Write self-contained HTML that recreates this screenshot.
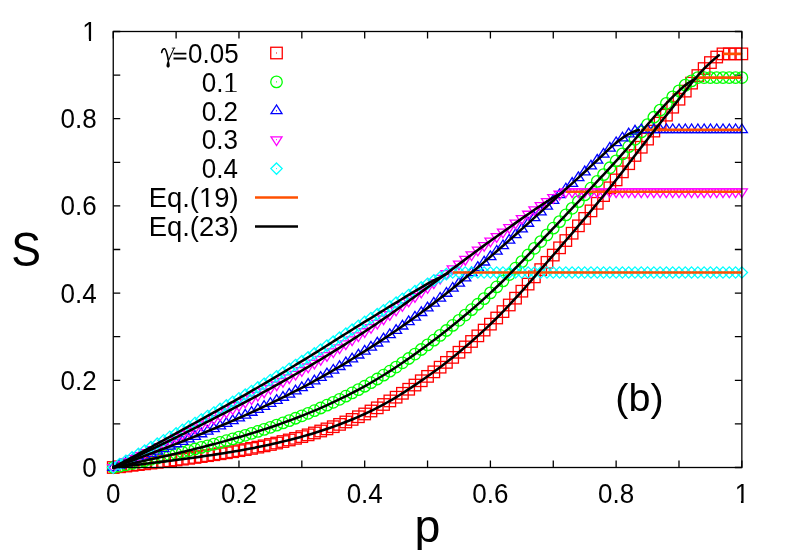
<!DOCTYPE html>
<html><head><meta charset="utf-8"><title>S vs p</title>
<style>html,body{margin:0;padding:0;background:#fff;}body{width:789px;height:552px;overflow:hidden;font-family:"Liberation Sans",sans-serif;}svg{display:block;}text{font-family:"Liberation Sans",sans-serif;fill:#000;}.sym{font-family:"Liberation Serif",serif;}</style></head><body>
<svg width="789" height="552" viewBox="0 0 789 552">
<rect x="0" y="0" width="789" height="552" fill="#fff"/>
<path d="M113.25 467.5v-7M113.25 31.5v7M113.25 467.5h7M741.85 467.5h-7M176.11 467.5v-7M176.11 31.5v7M113.25 423.9h7M741.85 423.9h-7M238.97 467.5v-7M238.97 31.5v7M113.25 380.3h7M741.85 380.3h-7M301.83 467.5v-7M301.83 31.5v7M113.25 336.7h7M741.85 336.7h-7M364.69 467.5v-7M364.69 31.5v7M113.25 293.1h7M741.85 293.1h-7M427.55 467.5v-7M427.55 31.5v7M113.25 249.5h7M741.85 249.5h-7M490.41 467.5v-7M490.41 31.5v7M113.25 205.9h7M741.85 205.9h-7M553.27 467.5v-7M553.27 31.5v7M113.25 162.3h7M741.85 162.3h-7M616.13 467.5v-7M616.13 31.5v7M113.25 118.7h7M741.85 118.7h-7M678.99 467.5v-7M678.99 31.5v7M113.25 75.1h7M741.85 75.1h-7M741.85 467.5v-7M741.85 31.5v7M113.25 31.5h7M741.85 31.5h-7" stroke="#000" stroke-width="1.3" fill="none"/>
<g stroke="#ff0000" stroke-width="1.3" fill="none" stroke-linejoin="miter"><rect x="107.5" y="461.75" width="11.5" height="11.5"/><rect x="113.79" y="461.03" width="11.5" height="11.5"/><rect x="120.07" y="460.3" width="11.5" height="11.5"/><rect x="126.36" y="459.57" width="11.5" height="11.5"/><rect x="132.64" y="458.84" width="11.5" height="11.5"/><rect x="138.93" y="458.09" width="11.5" height="11.5"/><rect x="145.22" y="457.34" width="11.5" height="11.5"/><rect x="151.5" y="456.57" width="11.5" height="11.5"/><rect x="157.79" y="455.79" width="11.5" height="11.5"/><rect x="164.07" y="455.01" width="11.5" height="11.5"/><rect x="170.36" y="454.21" width="11.5" height="11.5"/><rect x="176.65" y="453.39" width="11.5" height="11.5"/><rect x="182.93" y="452.56" width="11.5" height="11.5"/><rect x="189.22" y="451.7" width="11.5" height="11.5"/><rect x="195.5" y="450.82" width="11.5" height="11.5"/><rect x="201.79" y="449.91" width="11.5" height="11.5"/><rect x="208.08" y="448.98" width="11.5" height="11.5"/><rect x="214.36" y="448.01" width="11.5" height="11.5"/><rect x="220.65" y="447.01" width="11.5" height="11.5"/><rect x="226.93" y="445.98" width="11.5" height="11.5"/><rect x="233.22" y="444.92" width="11.5" height="11.5"/><rect x="239.51" y="443.81" width="11.5" height="11.5"/><rect x="245.79" y="442.64" width="11.5" height="11.5"/><rect x="252.08" y="441.4" width="11.5" height="11.5"/><rect x="258.36" y="440.1" width="11.5" height="11.5"/><rect x="264.65" y="438.73" width="11.5" height="11.5"/><rect x="270.94" y="437.29" width="11.5" height="11.5"/><rect x="277.22" y="435.79" width="11.5" height="11.5"/><rect x="283.51" y="434.22" width="11.5" height="11.5"/><rect x="289.79" y="432.58" width="11.5" height="11.5"/><rect x="296.08" y="430.88" width="11.5" height="11.5"/><rect x="302.37" y="429.1" width="11.5" height="11.5"/><rect x="308.65" y="427.22" width="11.5" height="11.5"/><rect x="314.94" y="425.24" width="11.5" height="11.5"/><rect x="321.22" y="423.15" width="11.5" height="11.5"/><rect x="327.51" y="420.95" width="11.5" height="11.5"/><rect x="333.8" y="418.64" width="11.5" height="11.5"/><rect x="340.08" y="416.21" width="11.5" height="11.5"/><rect x="346.37" y="413.66" width="11.5" height="11.5"/><rect x="352.65" y="411" width="11.5" height="11.5"/><rect x="358.94" y="408.21" width="11.5" height="11.5"/><rect x="365.23" y="405.25" width="11.5" height="11.5"/><rect x="371.51" y="402.09" width="11.5" height="11.5"/><rect x="377.8" y="398.73" width="11.5" height="11.5"/><rect x="384.08" y="395.17" width="11.5" height="11.5"/><rect x="390.37" y="391.44" width="11.5" height="11.5"/><rect x="396.66" y="387.54" width="11.5" height="11.5"/><rect x="402.94" y="383.5" width="11.5" height="11.5"/><rect x="409.23" y="379.31" width="11.5" height="11.5"/><rect x="415.51" y="375.02" width="11.5" height="11.5"/><rect x="421.8" y="370.63" width="11.5" height="11.5"/><rect x="428.09" y="366.11" width="11.5" height="11.5"/><rect x="434.37" y="361.44" width="11.5" height="11.5"/><rect x="440.66" y="356.62" width="11.5" height="11.5"/><rect x="446.94" y="351.63" width="11.5" height="11.5"/><rect x="453.23" y="346.49" width="11.5" height="11.5"/><rect x="459.52" y="341.18" width="11.5" height="11.5"/><rect x="465.8" y="335.72" width="11.5" height="11.5"/><rect x="472.09" y="330.1" width="11.5" height="11.5"/><rect x="478.37" y="324.33" width="11.5" height="11.5"/><rect x="484.66" y="318.39" width="11.5" height="11.5"/><rect x="490.95" y="312.25" width="11.5" height="11.5"/><rect x="497.23" y="305.85" width="11.5" height="11.5"/><rect x="503.52" y="299.24" width="11.5" height="11.5"/><rect x="509.8" y="292.42" width="11.5" height="11.5"/><rect x="516.09" y="285.44" width="11.5" height="11.5"/><rect x="522.38" y="278.34" width="11.5" height="11.5"/><rect x="528.66" y="271.13" width="11.5" height="11.5"/><rect x="534.95" y="263.87" width="11.5" height="11.5"/><rect x="541.23" y="256.59" width="11.5" height="11.5"/><rect x="547.52" y="249.33" width="11.5" height="11.5"/><rect x="553.81" y="242.08" width="11.5" height="11.5"/><rect x="560.09" y="234.8" width="11.5" height="11.5"/><rect x="566.38" y="227.47" width="11.5" height="11.5"/><rect x="572.66" y="220.09" width="11.5" height="11.5"/><rect x="578.95" y="212.66" width="11.5" height="11.5"/><rect x="585.24" y="205.14" width="11.5" height="11.5"/><rect x="591.52" y="197.55" width="11.5" height="11.5"/><rect x="597.81" y="189.86" width="11.5" height="11.5"/><rect x="604.09" y="182.07" width="11.5" height="11.5"/><rect x="610.38" y="174.16" width="11.5" height="11.5"/><rect x="616.67" y="166.11" width="11.5" height="11.5"/><rect x="622.95" y="157.94" width="11.5" height="11.5"/><rect x="629.24" y="149.71" width="11.5" height="11.5"/><rect x="635.52" y="141.49" width="11.5" height="11.5"/><rect x="641.81" y="133.36" width="11.5" height="11.5"/><rect x="648.1" y="125.34" width="11.5" height="11.5"/><rect x="654.38" y="117.36" width="11.5" height="11.5"/><rect x="660.67" y="109.41" width="11.5" height="11.5"/><rect x="666.95" y="101.46" width="11.5" height="11.5"/><rect x="673.24" y="93.48" width="11.5" height="11.5"/><rect x="679.53" y="85.38" width="11.5" height="11.5"/><rect x="685.81" y="77.38" width="11.5" height="11.5"/><rect x="692.1" y="69.82" width="11.5" height="11.5"/><rect x="698.38" y="62.8" width="11.5" height="11.5"/><rect x="704.67" y="56.81" width="11.5" height="11.5"/><rect x="710.96" y="51.27" width="11.5" height="11.5"/><rect x="717.24" y="48.12" width="11.5" height="11.5"/><rect x="723.53" y="48.12" width="11.5" height="11.5"/><rect x="729.81" y="48.12" width="11.5" height="11.5"/><rect x="736.1" y="48.12" width="11.5" height="11.5"/></g><g fill="#ff0000" stroke="none"><path d="M112.75 467h1v1h-1zM119.04 466.28h1v1h-1zM125.32 465.55h1v1h-1zM131.61 464.82h1v1h-1zM137.89 464.09h1v1h-1zM144.18 463.34h1v1h-1zM150.47 462.59h1v1h-1zM156.75 461.82h1v1h-1zM163.04 461.04h1v1h-1zM169.32 460.26h1v1h-1zM175.61 459.46h1v1h-1zM181.9 458.64h1v1h-1zM188.18 457.81h1v1h-1zM194.47 456.95h1v1h-1zM200.75 456.07h1v1h-1zM207.04 455.16h1v1h-1zM213.33 454.23h1v1h-1zM219.61 453.26h1v1h-1zM225.9 452.26h1v1h-1zM232.18 451.23h1v1h-1zM238.47 450.17h1v1h-1zM244.76 449.06h1v1h-1zM251.04 447.89h1v1h-1zM257.33 446.65h1v1h-1zM263.61 445.35h1v1h-1zM269.9 443.98h1v1h-1zM276.19 442.54h1v1h-1zM282.47 441.04h1v1h-1zM288.76 439.47h1v1h-1zM295.04 437.83h1v1h-1zM301.33 436.13h1v1h-1zM307.62 434.35h1v1h-1zM313.9 432.47h1v1h-1zM320.19 430.49h1v1h-1zM326.47 428.4h1v1h-1zM332.76 426.2h1v1h-1zM339.05 423.89h1v1h-1zM345.33 421.46h1v1h-1zM351.62 418.91h1v1h-1zM357.9 416.25h1v1h-1zM364.19 413.46h1v1h-1zM370.48 410.5h1v1h-1zM376.76 407.34h1v1h-1zM383.05 403.98h1v1h-1zM389.33 400.42h1v1h-1zM395.62 396.69h1v1h-1zM401.91 392.79h1v1h-1zM408.19 388.75h1v1h-1zM414.48 384.56h1v1h-1zM420.76 380.27h1v1h-1zM427.05 375.88h1v1h-1zM433.34 371.36h1v1h-1zM439.62 366.69h1v1h-1zM445.91 361.87h1v1h-1zM452.19 356.88h1v1h-1zM458.48 351.74h1v1h-1zM464.77 346.43h1v1h-1zM471.05 340.97h1v1h-1zM477.34 335.35h1v1h-1zM483.62 329.58h1v1h-1zM489.91 323.64h1v1h-1zM496.2 317.5h1v1h-1zM502.48 311.1h1v1h-1zM508.77 304.49h1v1h-1zM515.05 297.67h1v1h-1zM521.34 290.69h1v1h-1zM527.63 283.59h1v1h-1zM533.91 276.38h1v1h-1zM540.2 269.12h1v1h-1zM546.48 261.84h1v1h-1zM552.77 254.58h1v1h-1zM559.06 247.33h1v1h-1zM565.34 240.05h1v1h-1zM571.63 232.72h1v1h-1zM577.91 225.34h1v1h-1zM584.2 217.91h1v1h-1zM590.49 210.39h1v1h-1zM596.77 202.8h1v1h-1zM603.06 195.11h1v1h-1zM609.34 187.32h1v1h-1zM615.63 179.41h1v1h-1zM621.92 171.36h1v1h-1zM628.2 163.19h1v1h-1zM634.49 154.96h1v1h-1zM640.77 146.74h1v1h-1zM647.06 138.61h1v1h-1zM653.35 130.59h1v1h-1zM659.63 122.61h1v1h-1zM665.92 114.66h1v1h-1zM672.2 106.71h1v1h-1zM678.49 98.73h1v1h-1zM684.78 90.63h1v1h-1zM691.06 82.63h1v1h-1zM697.35 75.07h1v1h-1zM703.63 68.05h1v1h-1zM709.92 62.06h1v1h-1zM716.21 56.52h1v1h-1zM722.49 53.37h1v1h-1zM728.78 53.37h1v1h-1zM735.06 53.37h1v1h-1zM741.35 53.37h1v1h-1z"/></g>
<g stroke="#00ff00" stroke-width="1.3" fill="none" stroke-linejoin="miter"><circle cx="113.25" cy="467.5" r="5.75"/><circle cx="119.54" cy="466.17" r="5.75"/><circle cx="125.82" cy="464.82" r="5.75"/><circle cx="132.11" cy="463.47" r="5.75"/><circle cx="138.39" cy="462.1" r="5.75"/><circle cx="144.68" cy="460.72" r="5.75"/><circle cx="150.97" cy="459.32" r="5.75"/><circle cx="157.25" cy="457.9" r="5.75"/><circle cx="163.54" cy="456.47" r="5.75"/><circle cx="169.82" cy="455.02" r="5.75"/><circle cx="176.11" cy="453.55" r="5.75"/><circle cx="182.4" cy="452.05" r="5.75"/><circle cx="188.68" cy="450.53" r="5.75"/><circle cx="194.97" cy="448.98" r="5.75"/><circle cx="201.25" cy="447.4" r="5.75"/><circle cx="207.54" cy="445.78" r="5.75"/><circle cx="213.83" cy="444.13" r="5.75"/><circle cx="220.11" cy="442.45" r="5.75"/><circle cx="226.4" cy="440.72" r="5.75"/><circle cx="232.68" cy="438.96" r="5.75"/><circle cx="238.97" cy="437.15" r="5.75"/><circle cx="245.26" cy="435.3" r="5.75"/><circle cx="251.54" cy="433.39" r="5.75"/><circle cx="257.83" cy="431.42" r="5.75"/><circle cx="264.11" cy="429.39" r="5.75"/><circle cx="270.4" cy="427.3" r="5.75"/><circle cx="276.69" cy="425.14" r="5.75"/><circle cx="282.97" cy="422.91" r="5.75"/><circle cx="289.26" cy="420.62" r="5.75"/><circle cx="295.54" cy="418.26" r="5.75"/><circle cx="301.83" cy="415.83" r="5.75"/><circle cx="308.12" cy="413.32" r="5.75"/><circle cx="314.4" cy="410.71" r="5.75"/><circle cx="320.69" cy="408.01" r="5.75"/><circle cx="326.97" cy="405.2" r="5.75"/><circle cx="333.26" cy="402.29" r="5.75"/><circle cx="339.55" cy="399.28" r="5.75"/><circle cx="345.83" cy="396.16" r="5.75"/><circle cx="352.12" cy="392.95" r="5.75"/><circle cx="358.4" cy="389.64" r="5.75"/><circle cx="364.69" cy="386.23" r="5.75"/><circle cx="370.98" cy="382.69" r="5.75"/><circle cx="377.26" cy="379" r="5.75"/><circle cx="383.55" cy="375.16" r="5.75"/><circle cx="389.83" cy="371.19" r="5.75"/><circle cx="396.12" cy="367.07" r="5.75"/><circle cx="402.41" cy="362.84" r="5.75"/><circle cx="408.69" cy="358.49" r="5.75"/><circle cx="414.98" cy="354.05" r="5.75"/><circle cx="421.26" cy="349.51" r="5.75"/><circle cx="427.55" cy="344.9" r="5.75"/><circle cx="433.84" cy="340.2" r="5.75"/><circle cx="440.12" cy="335.4" r="5.75"/><circle cx="446.41" cy="330.49" r="5.75"/><circle cx="452.69" cy="325.47" r="5.75"/><circle cx="458.98" cy="320.33" r="5.75"/><circle cx="465.27" cy="315.08" r="5.75"/><circle cx="471.55" cy="309.72" r="5.75"/><circle cx="477.84" cy="304.23" r="5.75"/><circle cx="484.12" cy="298.62" r="5.75"/><circle cx="490.41" cy="292.88" r="5.75"/><circle cx="496.7" cy="286.97" r="5.75"/><circle cx="502.98" cy="280.87" r="5.75"/><circle cx="509.27" cy="274.59" r="5.75"/><circle cx="515.55" cy="268.16" r="5.75"/><circle cx="521.84" cy="261.62" r="5.75"/><circle cx="528.13" cy="254.98" r="5.75"/><circle cx="534.41" cy="248.29" r="5.75"/><circle cx="540.7" cy="241.58" r="5.75"/><circle cx="546.98" cy="234.87" r="5.75"/><circle cx="553.27" cy="228.22" r="5.75"/><circle cx="559.56" cy="221.6" r="5.75"/><circle cx="565.84" cy="214.96" r="5.75"/><circle cx="572.13" cy="208.29" r="5.75"/><circle cx="578.41" cy="201.61" r="5.75"/><circle cx="584.7" cy="194.9" r="5.75"/><circle cx="590.99" cy="188.16" r="5.75"/><circle cx="597.27" cy="181.39" r="5.75"/><circle cx="603.56" cy="174.6" r="5.75"/><circle cx="609.84" cy="167.77" r="5.75"/><circle cx="616.13" cy="160.9" r="5.75"/><circle cx="622.42" cy="153.9" r="5.75"/><circle cx="628.7" cy="146.68" r="5.75"/><circle cx="634.99" cy="139.34" r="5.75"/><circle cx="641.27" cy="131.93" r="5.75"/><circle cx="647.56" cy="124.53" r="5.75"/><circle cx="653.85" cy="117.24" r="5.75"/><circle cx="660.13" cy="110.13" r="5.75"/><circle cx="666.42" cy="103.29" r="5.75"/><circle cx="672.7" cy="96.81" r="5.75"/><circle cx="678.99" cy="90.8" r="5.75"/><circle cx="685.28" cy="85.15" r="5.75"/><circle cx="691.56" cy="80.86" r="5.75"/><circle cx="697.85" cy="77.53" r="5.75"/><circle cx="704.13" cy="77.53" r="5.75"/><circle cx="710.42" cy="77.53" r="5.75"/><circle cx="716.71" cy="77.53" r="5.75"/><circle cx="722.99" cy="77.53" r="5.75"/><circle cx="729.28" cy="77.53" r="5.75"/><circle cx="735.56" cy="77.53" r="5.75"/><circle cx="741.85" cy="77.53" r="5.75"/></g><g fill="#00ff00" stroke="none"><path d="M112.75 467h1v1h-1zM119.04 465.67h1v1h-1zM125.32 464.32h1v1h-1zM131.61 462.97h1v1h-1zM137.89 461.6h1v1h-1zM144.18 460.22h1v1h-1zM150.47 458.82h1v1h-1zM156.75 457.4h1v1h-1zM163.04 455.97h1v1h-1zM169.32 454.52h1v1h-1zM175.61 453.05h1v1h-1zM181.9 451.55h1v1h-1zM188.18 450.03h1v1h-1zM194.47 448.48h1v1h-1zM200.75 446.9h1v1h-1zM207.04 445.28h1v1h-1zM213.33 443.63h1v1h-1zM219.61 441.95h1v1h-1zM225.9 440.22h1v1h-1zM232.18 438.46h1v1h-1zM238.47 436.65h1v1h-1zM244.76 434.8h1v1h-1zM251.04 432.89h1v1h-1zM257.33 430.92h1v1h-1zM263.61 428.89h1v1h-1zM269.9 426.8h1v1h-1zM276.19 424.64h1v1h-1zM282.47 422.41h1v1h-1zM288.76 420.12h1v1h-1zM295.04 417.76h1v1h-1zM301.33 415.33h1v1h-1zM307.62 412.82h1v1h-1zM313.9 410.21h1v1h-1zM320.19 407.51h1v1h-1zM326.47 404.7h1v1h-1zM332.76 401.79h1v1h-1zM339.05 398.78h1v1h-1zM345.33 395.66h1v1h-1zM351.62 392.45h1v1h-1zM357.9 389.14h1v1h-1zM364.19 385.73h1v1h-1zM370.48 382.19h1v1h-1zM376.76 378.5h1v1h-1zM383.05 374.66h1v1h-1zM389.33 370.69h1v1h-1zM395.62 366.57h1v1h-1zM401.91 362.34h1v1h-1zM408.19 357.99h1v1h-1zM414.48 353.55h1v1h-1zM420.76 349.01h1v1h-1zM427.05 344.4h1v1h-1zM433.34 339.7h1v1h-1zM439.62 334.9h1v1h-1zM445.91 329.99h1v1h-1zM452.19 324.97h1v1h-1zM458.48 319.83h1v1h-1zM464.77 314.58h1v1h-1zM471.05 309.22h1v1h-1zM477.34 303.73h1v1h-1zM483.62 298.12h1v1h-1zM489.91 292.38h1v1h-1zM496.2 286.47h1v1h-1zM502.48 280.37h1v1h-1zM508.77 274.09h1v1h-1zM515.05 267.66h1v1h-1zM521.34 261.12h1v1h-1zM527.63 254.48h1v1h-1zM533.91 247.79h1v1h-1zM540.2 241.08h1v1h-1zM546.48 234.37h1v1h-1zM552.77 227.72h1v1h-1zM559.06 221.1h1v1h-1zM565.34 214.46h1v1h-1zM571.63 207.79h1v1h-1zM577.91 201.11h1v1h-1zM584.2 194.4h1v1h-1zM590.49 187.66h1v1h-1zM596.77 180.89h1v1h-1zM603.06 174.1h1v1h-1zM609.34 167.27h1v1h-1zM615.63 160.4h1v1h-1zM621.92 153.4h1v1h-1zM628.2 146.18h1v1h-1zM634.49 138.84h1v1h-1zM640.77 131.43h1v1h-1zM647.06 124.03h1v1h-1zM653.35 116.74h1v1h-1zM659.63 109.63h1v1h-1zM665.92 102.79h1v1h-1zM672.2 96.31h1v1h-1zM678.49 90.3h1v1h-1zM684.78 84.65h1v1h-1zM691.06 80.36h1v1h-1zM697.35 77.03h1v1h-1zM703.63 77.03h1v1h-1zM709.92 77.03h1v1h-1zM716.21 77.03h1v1h-1zM722.49 77.03h1v1h-1zM728.78 77.03h1v1h-1zM735.06 77.03h1v1h-1zM741.35 77.03h1v1h-1z"/></g>
<g stroke="#0000ff" stroke-width="1.3" fill="none" stroke-linejoin="miter"><path d="M113.25 461.7L107.75 470.4L118.75 470.4Z"/><path d="M119.54 459.41L114.04 468.11L125.04 468.11Z"/><path d="M125.82 457.1L120.32 465.8L131.32 465.8Z"/><path d="M132.11 454.78L126.61 463.48L137.61 463.48Z"/><path d="M138.39 452.44L132.89 461.14L143.89 461.14Z"/><path d="M144.68 450.09L139.18 458.79L150.18 458.79Z"/><path d="M150.97 447.72L145.47 456.42L156.47 456.42Z"/><path d="M157.25 445.34L151.75 454.04L162.75 454.04Z"/><path d="M163.54 442.93L158.04 451.63L169.04 451.63Z"/><path d="M169.82 440.51L164.32 449.21L175.32 449.21Z"/><path d="M176.11 438.07L170.61 446.77L181.61 446.77Z"/><path d="M182.4 435.6L176.9 444.3L187.9 444.3Z"/><path d="M188.68 433.12L183.18 441.82L194.18 441.82Z"/><path d="M194.97 430.6L189.47 439.3L200.47 439.3Z"/><path d="M201.25 428.07L195.75 436.77L206.75 436.77Z"/><path d="M207.54 425.5L202.04 434.2L213.04 434.2Z"/><path d="M213.83 422.9L208.33 431.6L219.33 431.6Z"/><path d="M220.11 420.27L214.61 428.97L225.61 428.97Z"/><path d="M226.4 417.61L220.9 426.31L231.9 426.31Z"/><path d="M232.68 414.91L227.18 423.61L238.18 423.61Z"/><path d="M238.97 412.17L233.47 420.87L244.47 420.87Z"/><path d="M245.26 409.39L239.76 418.09L250.76 418.09Z"/><path d="M251.54 406.55L246.04 415.25L257.04 415.25Z"/><path d="M257.83 403.66L252.33 412.36L263.33 412.36Z"/><path d="M264.11 400.72L258.61 409.42L269.61 409.42Z"/><path d="M270.4 397.72L264.9 406.42L275.9 406.42Z"/><path d="M276.69 394.67L271.19 403.37L282.19 403.37Z"/><path d="M282.97 391.56L277.47 400.26L288.47 400.26Z"/><path d="M289.26 388.39L283.76 397.09L294.76 397.09Z"/><path d="M295.54 385.18L290.04 393.88L301.04 393.88Z"/><path d="M301.83 381.91L296.33 390.61L307.33 390.61Z"/><path d="M308.12 378.58L302.62 387.28L313.62 387.28Z"/><path d="M314.4 375.17L308.9 383.87L319.9 383.87Z"/><path d="M320.69 371.69L315.19 380.39L326.19 380.39Z"/><path d="M326.97 368.13L321.47 376.83L332.47 376.83Z"/><path d="M333.26 364.5L327.76 373.2L338.76 373.2Z"/><path d="M339.55 360.8L334.05 369.5L345.05 369.5Z"/><path d="M345.83 357.03L340.33 365.73L351.33 365.73Z"/><path d="M352.12 353.21L346.62 361.91L357.62 361.91Z"/><path d="M358.4 349.32L352.9 358.02L363.9 358.02Z"/><path d="M364.69 345.38L359.19 354.08L370.19 354.08Z"/><path d="M370.98 341.37L365.48 350.07L376.48 350.07Z"/><path d="M377.26 337.3L371.76 346L382.76 346Z"/><path d="M383.55 333.16L378.05 341.86L389.05 341.86Z"/><path d="M389.83 328.95L384.33 337.65L395.33 337.65Z"/><path d="M396.12 324.66L390.62 333.36L401.62 333.36Z"/><path d="M402.41 320.31L396.91 329.01L407.91 329.01Z"/><path d="M408.69 315.87L403.19 324.57L414.19 324.57Z"/><path d="M414.98 311.37L409.48 320.07L420.48 320.07Z"/><path d="M421.26 306.78L415.76 315.48L426.76 315.48Z"/><path d="M427.55 302.12L422.05 310.82L433.05 310.82Z"/><path d="M433.84 297.37L428.34 306.07L439.34 306.07Z"/><path d="M440.12 292.51L434.62 301.21L445.62 301.21Z"/><path d="M446.41 287.56L440.91 296.26L451.91 296.26Z"/><path d="M452.69 282.51L447.19 291.21L458.19 291.21Z"/><path d="M458.98 277.39L453.48 286.09L464.48 286.09Z"/><path d="M465.27 272.19L459.77 280.89L470.77 280.89Z"/><path d="M471.55 266.93L466.05 275.63L477.05 275.63Z"/><path d="M477.84 261.62L472.34 270.32L483.34 270.32Z"/><path d="M484.12 256.28L478.62 264.98L489.62 264.98Z"/><path d="M490.41 250.9L484.91 259.6L495.91 259.6Z"/><path d="M496.7 245.48L491.2 254.18L502.2 254.18Z"/><path d="M502.98 240L497.48 248.7L508.48 248.7Z"/><path d="M509.27 234.45L503.77 243.15L514.77 243.15Z"/><path d="M515.55 228.86L510.05 237.56L521.05 237.56Z"/><path d="M521.84 223.21L516.34 231.91L527.34 231.91Z"/><path d="M528.13 217.54L522.63 226.24L533.63 226.24Z"/><path d="M534.41 211.83L528.91 220.53L539.91 220.53Z"/><path d="M540.7 206.11L535.2 214.81L546.2 214.81Z"/><path d="M546.98 200.38L541.48 209.08L552.48 209.08Z"/><path d="M553.27 194.65L547.77 203.35L558.77 203.35Z"/><path d="M559.56 188.95L554.06 197.65L565.06 197.65Z"/><path d="M565.84 183.27L560.34 191.97L571.34 191.97Z"/><path d="M572.13 177.58L566.63 186.28L577.63 186.28Z"/><path d="M578.41 171.87L572.91 180.57L583.91 180.57Z"/><path d="M584.7 166.09L579.2 174.79L590.2 174.79Z"/><path d="M590.99 160.24L585.49 168.94L596.49 168.94Z"/><path d="M597.27 154.36L591.77 163.06L602.77 163.06Z"/><path d="M603.56 148.47L598.06 157.17L609.06 157.17Z"/><path d="M609.84 142.43L604.34 151.13L615.34 151.13Z"/><path d="M616.13 137L610.63 145.7L621.63 145.7Z"/><path d="M622.42 132.26L616.92 140.96L627.92 140.96Z"/><path d="M628.7 128.18L623.2 136.88L634.2 136.88Z"/><path d="M634.99 125.34L629.49 134.04L640.49 134.04Z"/><path d="M641.27 123.98L635.77 132.68L646.77 132.68Z"/><path d="M647.56 123.98L642.06 132.68L653.06 132.68Z"/><path d="M653.85 123.98L648.35 132.68L659.35 132.68Z"/><path d="M660.13 123.98L654.63 132.68L665.63 132.68Z"/><path d="M666.42 123.98L660.92 132.68L671.92 132.68Z"/><path d="M672.7 123.98L667.2 132.68L678.2 132.68Z"/><path d="M678.99 123.98L673.49 132.68L684.49 132.68Z"/><path d="M685.28 123.98L679.78 132.68L690.78 132.68Z"/><path d="M691.56 123.98L686.06 132.68L697.06 132.68Z"/><path d="M697.85 123.98L692.35 132.68L703.35 132.68Z"/><path d="M704.13 123.98L698.63 132.68L709.63 132.68Z"/><path d="M710.42 123.98L704.92 132.68L715.92 132.68Z"/><path d="M716.71 123.98L711.21 132.68L722.21 132.68Z"/><path d="M722.99 123.98L717.49 132.68L728.49 132.68Z"/><path d="M729.28 123.98L723.78 132.68L734.78 132.68Z"/><path d="M735.56 123.98L730.06 132.68L741.06 132.68Z"/><path d="M741.85 123.98L736.35 132.68L747.35 132.68Z"/></g><g fill="#0000ff" stroke="none"><path d="M112.75 467h1v1h-1zM119.04 464.71h1v1h-1zM125.32 462.4h1v1h-1zM131.61 460.08h1v1h-1zM137.89 457.74h1v1h-1zM144.18 455.39h1v1h-1zM150.47 453.02h1v1h-1zM156.75 450.64h1v1h-1zM163.04 448.23h1v1h-1zM169.32 445.81h1v1h-1zM175.61 443.37h1v1h-1zM181.9 440.9h1v1h-1zM188.18 438.42h1v1h-1zM194.47 435.9h1v1h-1zM200.75 433.37h1v1h-1zM207.04 430.8h1v1h-1zM213.33 428.2h1v1h-1zM219.61 425.57h1v1h-1zM225.9 422.91h1v1h-1zM232.18 420.21h1v1h-1zM238.47 417.47h1v1h-1zM244.76 414.69h1v1h-1zM251.04 411.85h1v1h-1zM257.33 408.96h1v1h-1zM263.61 406.02h1v1h-1zM269.9 403.02h1v1h-1zM276.19 399.97h1v1h-1zM282.47 396.86h1v1h-1zM288.76 393.69h1v1h-1zM295.04 390.48h1v1h-1zM301.33 387.21h1v1h-1zM307.62 383.88h1v1h-1zM313.9 380.47h1v1h-1zM320.19 376.99h1v1h-1zM326.47 373.43h1v1h-1zM332.76 369.8h1v1h-1zM339.05 366.1h1v1h-1zM345.33 362.33h1v1h-1zM351.62 358.51h1v1h-1zM357.9 354.62h1v1h-1zM364.19 350.68h1v1h-1zM370.48 346.67h1v1h-1zM376.76 342.6h1v1h-1zM383.05 338.46h1v1h-1zM389.33 334.25h1v1h-1zM395.62 329.96h1v1h-1zM401.91 325.61h1v1h-1zM408.19 321.17h1v1h-1zM414.48 316.67h1v1h-1zM420.76 312.08h1v1h-1zM427.05 307.42h1v1h-1zM433.34 302.67h1v1h-1zM439.62 297.81h1v1h-1zM445.91 292.86h1v1h-1zM452.19 287.81h1v1h-1zM458.48 282.69h1v1h-1zM464.77 277.49h1v1h-1zM471.05 272.23h1v1h-1zM477.34 266.92h1v1h-1zM483.62 261.58h1v1h-1zM489.91 256.2h1v1h-1zM496.2 250.78h1v1h-1zM502.48 245.3h1v1h-1zM508.77 239.75h1v1h-1zM515.05 234.16h1v1h-1zM521.34 228.51h1v1h-1zM527.63 222.84h1v1h-1zM533.91 217.13h1v1h-1zM540.2 211.41h1v1h-1zM546.48 205.68h1v1h-1zM552.77 199.95h1v1h-1zM559.06 194.25h1v1h-1zM565.34 188.57h1v1h-1zM571.63 182.88h1v1h-1zM577.91 177.17h1v1h-1zM584.2 171.39h1v1h-1zM590.49 165.54h1v1h-1zM596.77 159.66h1v1h-1zM603.06 153.77h1v1h-1zM609.34 147.73h1v1h-1zM615.63 142.3h1v1h-1zM621.92 137.56h1v1h-1zM628.2 133.48h1v1h-1zM634.49 130.64h1v1h-1zM640.77 129.28h1v1h-1zM647.06 129.28h1v1h-1zM653.35 129.28h1v1h-1zM659.63 129.28h1v1h-1zM665.92 129.28h1v1h-1zM672.2 129.28h1v1h-1zM678.49 129.28h1v1h-1zM684.78 129.28h1v1h-1zM691.06 129.28h1v1h-1zM697.35 129.28h1v1h-1zM703.63 129.28h1v1h-1zM709.92 129.28h1v1h-1zM716.21 129.28h1v1h-1zM722.49 129.28h1v1h-1zM728.78 129.28h1v1h-1zM735.06 129.28h1v1h-1zM741.35 129.28h1v1h-1z"/></g>
<g stroke="#ff00ff" stroke-width="1.3" fill="none" stroke-linejoin="miter"><path d="M113.25 473.3L107.75 464.6L118.75 464.6Z"/><path d="M119.54 470.35L114.04 461.65L125.04 461.65Z"/><path d="M125.82 467.39L120.32 458.69L131.32 458.69Z"/><path d="M132.11 464.42L126.61 455.72L137.61 455.72Z"/><path d="M138.39 461.44L132.89 452.74L143.89 452.74Z"/><path d="M144.68 458.44L139.18 449.74L150.18 449.74Z"/><path d="M150.97 455.43L145.47 446.73L156.47 446.73Z"/><path d="M157.25 452.4L151.75 443.7L162.75 443.7Z"/><path d="M163.54 449.35L158.04 440.65L169.04 440.65Z"/><path d="M169.82 446.29L164.32 437.59L175.32 437.59Z"/><path d="M176.11 443.22L170.61 434.52L181.61 434.52Z"/><path d="M182.4 440.12L176.9 431.42L187.9 431.42Z"/><path d="M188.68 437L183.18 428.3L194.18 428.3Z"/><path d="M194.97 433.86L189.47 425.16L200.47 425.16Z"/><path d="M201.25 430.7L195.75 422L206.75 422Z"/><path d="M207.54 427.51L202.04 418.81L213.04 418.81Z"/><path d="M213.83 424.3L208.33 415.6L219.33 415.6Z"/><path d="M220.11 421.07L214.61 412.37L225.61 412.37Z"/><path d="M226.4 417.81L220.9 409.11L231.9 409.11Z"/><path d="M232.68 414.52L227.18 405.82L238.18 405.82Z"/><path d="M238.97 411.21L233.47 402.51L244.47 402.51Z"/><path d="M245.26 407.88L239.76 399.18L250.76 399.18Z"/><path d="M251.54 404.51L246.04 395.81L257.04 395.81Z"/><path d="M257.83 401.11L252.33 392.41L263.33 392.41Z"/><path d="M264.11 397.68L258.61 388.98L269.61 388.98Z"/><path d="M270.4 394.22L264.9 385.52L275.9 385.52Z"/><path d="M276.69 390.72L271.19 382.02L282.19 382.02Z"/><path d="M282.97 387.19L277.47 378.49L288.47 378.49Z"/><path d="M289.26 383.62L283.76 374.92L294.76 374.92Z"/><path d="M295.54 380.02L290.04 371.32L301.04 371.32Z"/><path d="M301.83 376.38L296.33 367.68L307.33 367.68Z"/><path d="M308.12 372.69L302.62 363.99L313.62 363.99Z"/><path d="M314.4 368.96L308.9 360.26L319.9 360.26Z"/><path d="M320.69 365.19L315.19 356.49L326.19 356.49Z"/><path d="M326.97 361.37L321.47 352.67L332.47 352.67Z"/><path d="M333.26 357.5L327.76 348.8L338.76 348.8Z"/><path d="M339.55 353.58L334.05 344.88L345.05 344.88Z"/><path d="M345.83 349.62L340.33 340.92L351.33 340.92Z"/><path d="M352.12 345.61L346.62 336.91L357.62 336.91Z"/><path d="M358.4 341.55L352.9 332.85L363.9 332.85Z"/><path d="M364.69 337.44L359.19 328.74L370.19 328.74Z"/><path d="M370.98 333.27L365.48 324.57L376.48 324.57Z"/><path d="M377.26 329.02L371.76 320.32L382.76 320.32Z"/><path d="M383.55 324.7L378.05 316L389.05 316Z"/><path d="M389.83 320.32L384.33 311.62L395.33 311.62Z"/><path d="M396.12 315.88L390.62 307.18L401.62 307.18Z"/><path d="M402.41 311.39L396.91 302.69L407.91 302.69Z"/><path d="M408.69 306.88L403.19 298.18L414.19 298.18Z"/><path d="M414.98 302.33L409.48 293.63L420.48 293.63Z"/><path d="M421.26 297.78L415.76 289.08L426.76 289.08Z"/><path d="M427.55 293.23L422.05 284.53L433.05 284.53Z"/><path d="M433.84 288.65L428.34 279.95L439.34 279.95Z"/><path d="M440.12 284.02L434.62 275.32L445.62 275.32Z"/><path d="M446.41 279.33L440.91 270.63L451.91 270.63Z"/><path d="M452.69 274.62L447.19 265.92L458.19 265.92Z"/><path d="M458.98 269.89L453.48 261.19L464.48 261.19Z"/><path d="M465.27 265.17L459.77 256.47L470.77 256.47Z"/><path d="M471.55 260.48L466.05 251.78L477.05 251.78Z"/><path d="M477.84 255.83L472.34 247.13L483.34 247.13Z"/><path d="M484.12 251.25L478.62 242.55L489.62 242.55Z"/><path d="M490.41 246.75L484.91 238.05L495.91 238.05Z"/><path d="M496.7 242.3L491.2 233.6L502.2 233.6Z"/><path d="M502.98 237.81L497.48 229.11L508.48 229.11Z"/><path d="M509.27 233.31L503.77 224.61L514.77 224.61Z"/><path d="M515.55 228.82L510.05 220.12L521.05 220.12Z"/><path d="M521.84 224.36L516.34 215.66L527.34 215.66Z"/><path d="M528.13 219.95L522.63 211.25L533.63 211.25Z"/><path d="M534.41 215.62L528.91 206.92L539.91 206.92Z"/><path d="M540.7 211.39L535.2 202.69L546.2 202.69Z"/><path d="M546.98 207.29L541.48 198.59L552.48 198.59Z"/><path d="M553.27 203.35L547.77 194.65L558.77 194.65Z"/><path d="M559.56 199.96L554.06 191.26L565.06 191.26Z"/><path d="M565.84 197.55L560.34 188.85L571.34 188.85Z"/><path d="M572.13 197.55L566.63 188.85L577.63 188.85Z"/><path d="M578.41 197.55L572.91 188.85L583.91 188.85Z"/><path d="M584.7 197.55L579.2 188.85L590.2 188.85Z"/><path d="M590.99 197.55L585.49 188.85L596.49 188.85Z"/><path d="M597.27 197.55L591.77 188.85L602.77 188.85Z"/><path d="M603.56 197.55L598.06 188.85L609.06 188.85Z"/><path d="M609.84 197.55L604.34 188.85L615.34 188.85Z"/><path d="M616.13 197.55L610.63 188.85L621.63 188.85Z"/><path d="M622.42 197.55L616.92 188.85L627.92 188.85Z"/><path d="M628.7 197.55L623.2 188.85L634.2 188.85Z"/><path d="M634.99 197.55L629.49 188.85L640.49 188.85Z"/><path d="M641.27 197.55L635.77 188.85L646.77 188.85Z"/><path d="M647.56 197.55L642.06 188.85L653.06 188.85Z"/><path d="M653.85 197.55L648.35 188.85L659.35 188.85Z"/><path d="M660.13 197.55L654.63 188.85L665.63 188.85Z"/><path d="M666.42 197.55L660.92 188.85L671.92 188.85Z"/><path d="M672.7 197.55L667.2 188.85L678.2 188.85Z"/><path d="M678.99 197.55L673.49 188.85L684.49 188.85Z"/><path d="M685.28 197.55L679.78 188.85L690.78 188.85Z"/><path d="M691.56 197.55L686.06 188.85L697.06 188.85Z"/><path d="M697.85 197.55L692.35 188.85L703.35 188.85Z"/><path d="M704.13 197.55L698.63 188.85L709.63 188.85Z"/><path d="M710.42 197.55L704.92 188.85L715.92 188.85Z"/><path d="M716.71 197.55L711.21 188.85L722.21 188.85Z"/><path d="M722.99 197.55L717.49 188.85L728.49 188.85Z"/><path d="M729.28 197.55L723.78 188.85L734.78 188.85Z"/><path d="M735.56 197.55L730.06 188.85L741.06 188.85Z"/><path d="M741.85 197.55L736.35 188.85L747.35 188.85Z"/></g><g fill="#ff00ff" stroke="none"><path d="M112.75 467h1v1h-1zM119.04 464.05h1v1h-1zM125.32 461.09h1v1h-1zM131.61 458.12h1v1h-1zM137.89 455.14h1v1h-1zM144.18 452.14h1v1h-1zM150.47 449.13h1v1h-1zM156.75 446.1h1v1h-1zM163.04 443.05h1v1h-1zM169.32 439.99h1v1h-1zM175.61 436.92h1v1h-1zM181.9 433.82h1v1h-1zM188.18 430.7h1v1h-1zM194.47 427.56h1v1h-1zM200.75 424.4h1v1h-1zM207.04 421.21h1v1h-1zM213.33 418h1v1h-1zM219.61 414.77h1v1h-1zM225.9 411.51h1v1h-1zM232.18 408.22h1v1h-1zM238.47 404.91h1v1h-1zM244.76 401.58h1v1h-1zM251.04 398.21h1v1h-1zM257.33 394.81h1v1h-1zM263.61 391.38h1v1h-1zM269.9 387.92h1v1h-1zM276.19 384.42h1v1h-1zM282.47 380.89h1v1h-1zM288.76 377.32h1v1h-1zM295.04 373.72h1v1h-1zM301.33 370.08h1v1h-1zM307.62 366.39h1v1h-1zM313.9 362.66h1v1h-1zM320.19 358.89h1v1h-1zM326.47 355.07h1v1h-1zM332.76 351.2h1v1h-1zM339.05 347.28h1v1h-1zM345.33 343.32h1v1h-1zM351.62 339.31h1v1h-1zM357.9 335.25h1v1h-1zM364.19 331.14h1v1h-1zM370.48 326.97h1v1h-1zM376.76 322.72h1v1h-1zM383.05 318.4h1v1h-1zM389.33 314.02h1v1h-1zM395.62 309.58h1v1h-1zM401.91 305.09h1v1h-1zM408.19 300.58h1v1h-1zM414.48 296.03h1v1h-1zM420.76 291.48h1v1h-1zM427.05 286.93h1v1h-1zM433.34 282.35h1v1h-1zM439.62 277.72h1v1h-1zM445.91 273.03h1v1h-1zM452.19 268.32h1v1h-1zM458.48 263.59h1v1h-1zM464.77 258.87h1v1h-1zM471.05 254.18h1v1h-1zM477.34 249.53h1v1h-1zM483.62 244.95h1v1h-1zM489.91 240.45h1v1h-1zM496.2 236h1v1h-1zM502.48 231.51h1v1h-1zM508.77 227.01h1v1h-1zM515.05 222.52h1v1h-1zM521.34 218.06h1v1h-1zM527.63 213.65h1v1h-1zM533.91 209.32h1v1h-1zM540.2 205.09h1v1h-1zM546.48 200.99h1v1h-1zM552.77 197.05h1v1h-1zM559.06 193.66h1v1h-1zM565.34 191.25h1v1h-1zM571.63 191.25h1v1h-1zM577.91 191.25h1v1h-1zM584.2 191.25h1v1h-1zM590.49 191.25h1v1h-1zM596.77 191.25h1v1h-1zM603.06 191.25h1v1h-1zM609.34 191.25h1v1h-1zM615.63 191.25h1v1h-1zM621.92 191.25h1v1h-1zM628.2 191.25h1v1h-1zM634.49 191.25h1v1h-1zM640.77 191.25h1v1h-1zM647.06 191.25h1v1h-1zM653.35 191.25h1v1h-1zM659.63 191.25h1v1h-1zM665.92 191.25h1v1h-1zM672.2 191.25h1v1h-1zM678.49 191.25h1v1h-1zM684.78 191.25h1v1h-1zM691.06 191.25h1v1h-1zM697.35 191.25h1v1h-1zM703.63 191.25h1v1h-1zM709.92 191.25h1v1h-1zM716.21 191.25h1v1h-1zM722.49 191.25h1v1h-1zM728.78 191.25h1v1h-1zM735.06 191.25h1v1h-1zM741.35 191.25h1v1h-1z"/></g>
<g stroke="#00ffff" stroke-width="1.3" fill="none" stroke-linejoin="miter"><path d="M113.25 461.85L118.9 467.5L113.25 473.15L107.6 467.5Z"/><path d="M119.54 458.47L125.19 464.12L119.54 469.77L113.89 464.12Z"/><path d="M125.82 455.08L131.47 460.73L125.82 466.38L120.17 460.73Z"/><path d="M132.11 451.69L137.76 457.34L132.11 462.99L126.46 457.34Z"/><path d="M138.39 448.28L144.04 453.93L138.39 459.58L132.74 453.93Z"/><path d="M144.68 444.88L150.33 450.53L144.68 456.18L139.03 450.53Z"/><path d="M150.97 441.46L156.62 447.11L150.97 452.76L145.32 447.11Z"/><path d="M157.25 438.03L162.9 443.68L157.25 449.33L151.6 443.68Z"/><path d="M163.54 434.6L169.19 440.25L163.54 445.9L157.89 440.25Z"/><path d="M169.82 431.16L175.47 436.81L169.82 442.46L164.17 436.81Z"/><path d="M176.11 427.71L181.76 433.36L176.11 439.01L170.46 433.36Z"/><path d="M182.4 424.25L188.05 429.9L182.4 435.55L176.75 429.9Z"/><path d="M188.68 420.78L194.33 426.43L188.68 432.08L183.03 426.43Z"/><path d="M194.97 417.31L200.62 422.96L194.97 428.61L189.32 422.96Z"/><path d="M201.25 413.82L206.9 419.47L201.25 425.12L195.6 419.47Z"/><path d="M207.54 410.32L213.19 415.97L207.54 421.62L201.89 415.97Z"/><path d="M213.83 406.81L219.48 412.46L213.83 418.11L208.18 412.46Z"/><path d="M220.11 403.28L225.76 408.93L220.11 414.58L214.46 408.93Z"/><path d="M226.4 399.74L232.05 405.39L226.4 411.04L220.75 405.39Z"/><path d="M232.68 396.19L238.33 401.84L232.68 407.49L227.03 401.84Z"/><path d="M238.97 392.61L244.62 398.26L238.97 403.91L233.32 398.26Z"/><path d="M245.26 389.02L250.91 394.67L245.26 400.32L239.61 394.67Z"/><path d="M251.54 385.39L257.19 391.04L251.54 396.69L245.89 391.04Z"/><path d="M257.83 381.74L263.48 387.39L257.83 393.04L252.18 387.39Z"/><path d="M264.11 378.06L269.76 383.71L264.11 389.36L258.46 383.71Z"/><path d="M270.4 374.36L276.05 380.01L270.4 385.66L264.75 380.01Z"/><path d="M276.69 370.63L282.34 376.28L276.69 381.93L271.04 376.28Z"/><path d="M282.97 366.88L288.62 372.53L282.97 378.18L277.32 372.53Z"/><path d="M289.26 363.1L294.91 368.75L289.26 374.4L283.61 368.75Z"/><path d="M295.54 359.31L301.19 364.96L295.54 370.61L289.89 364.96Z"/><path d="M301.83 355.51L307.48 361.16L301.83 366.81L296.18 361.16Z"/><path d="M308.12 351.67L313.77 357.32L308.12 362.97L302.47 357.32Z"/><path d="M314.4 347.79L320.05 353.44L314.4 359.09L308.75 353.44Z"/><path d="M320.69 343.87L326.34 349.52L320.69 355.17L315.04 349.52Z"/><path d="M326.97 339.91L332.62 345.56L326.97 351.21L321.32 345.56Z"/><path d="M333.26 335.94L338.91 341.59L333.26 347.24L327.61 341.59Z"/><path d="M339.55 331.96L345.2 337.61L339.55 343.26L333.9 337.61Z"/><path d="M345.83 327.99L351.48 333.64L345.83 339.29L340.18 333.64Z"/><path d="M352.12 324.03L357.77 329.68L352.12 335.33L346.47 329.68Z"/><path d="M358.4 320.1L364.05 325.75L358.4 331.4L352.75 325.75Z"/><path d="M364.69 316.23L370.34 321.88L364.69 327.53L359.04 321.88Z"/><path d="M370.98 312.38L376.63 318.03L370.98 323.68L365.33 318.03Z"/><path d="M377.26 308.52L382.91 314.17L377.26 319.82L371.61 314.17Z"/><path d="M383.55 304.66L389.2 310.31L383.55 315.96L377.9 310.31Z"/><path d="M389.83 300.8L395.48 306.45L389.83 312.1L384.18 306.45Z"/><path d="M396.12 296.95L401.77 302.6L396.12 308.25L390.47 302.6Z"/><path d="M402.41 293.12L408.06 298.77L402.41 304.42L396.76 298.77Z"/><path d="M408.69 289.31L414.34 294.96L408.69 300.61L403.04 294.96Z"/><path d="M414.98 285.52L420.63 291.17L414.98 296.82L409.33 291.17Z"/><path d="M421.26 281.78L426.91 287.43L421.26 293.08L415.61 287.43Z"/><path d="M427.55 278.08L433.2 283.73L427.55 289.38L421.9 283.73Z"/><path d="M433.84 274.74L439.49 280.39L433.84 286.04L428.19 280.39Z"/><path d="M440.12 271.62L445.77 277.27L440.12 282.92L434.47 277.27Z"/><path d="M446.41 268.52L452.06 274.17L446.41 279.82L440.76 274.17Z"/><path d="M452.69 266.86L458.34 272.51L452.69 278.16L447.04 272.51Z"/><path d="M458.98 266.86L464.63 272.51L458.98 278.16L453.33 272.51Z"/><path d="M465.27 266.86L470.92 272.51L465.27 278.16L459.62 272.51Z"/><path d="M471.55 266.86L477.2 272.51L471.55 278.16L465.9 272.51Z"/><path d="M477.84 266.86L483.49 272.51L477.84 278.16L472.19 272.51Z"/><path d="M484.12 266.86L489.77 272.51L484.12 278.16L478.47 272.51Z"/><path d="M490.41 266.86L496.06 272.51L490.41 278.16L484.76 272.51Z"/><path d="M496.7 266.86L502.35 272.51L496.7 278.16L491.05 272.51Z"/><path d="M502.98 266.86L508.63 272.51L502.98 278.16L497.33 272.51Z"/><path d="M509.27 266.86L514.92 272.51L509.27 278.16L503.62 272.51Z"/><path d="M515.55 266.86L521.2 272.51L515.55 278.16L509.9 272.51Z"/><path d="M521.84 266.86L527.49 272.51L521.84 278.16L516.19 272.51Z"/><path d="M528.13 266.86L533.78 272.51L528.13 278.16L522.48 272.51Z"/><path d="M534.41 266.86L540.06 272.51L534.41 278.16L528.76 272.51Z"/><path d="M540.7 266.86L546.35 272.51L540.7 278.16L535.05 272.51Z"/><path d="M546.98 266.86L552.63 272.51L546.98 278.16L541.33 272.51Z"/><path d="M553.27 266.86L558.92 272.51L553.27 278.16L547.62 272.51Z"/><path d="M559.56 266.86L565.21 272.51L559.56 278.16L553.91 272.51Z"/><path d="M565.84 266.86L571.49 272.51L565.84 278.16L560.19 272.51Z"/><path d="M572.13 266.86L577.78 272.51L572.13 278.16L566.48 272.51Z"/><path d="M578.41 266.86L584.06 272.51L578.41 278.16L572.76 272.51Z"/><path d="M584.7 266.86L590.35 272.51L584.7 278.16L579.05 272.51Z"/><path d="M590.99 266.86L596.64 272.51L590.99 278.16L585.34 272.51Z"/><path d="M597.27 266.86L602.92 272.51L597.27 278.16L591.62 272.51Z"/><path d="M603.56 266.86L609.21 272.51L603.56 278.16L597.91 272.51Z"/><path d="M609.84 266.86L615.49 272.51L609.84 278.16L604.19 272.51Z"/><path d="M616.13 266.86L621.78 272.51L616.13 278.16L610.48 272.51Z"/><path d="M622.42 266.86L628.07 272.51L622.42 278.16L616.77 272.51Z"/><path d="M628.7 266.86L634.35 272.51L628.7 278.16L623.05 272.51Z"/><path d="M634.99 266.86L640.64 272.51L634.99 278.16L629.34 272.51Z"/><path d="M641.27 266.86L646.92 272.51L641.27 278.16L635.62 272.51Z"/><path d="M647.56 266.86L653.21 272.51L647.56 278.16L641.91 272.51Z"/><path d="M653.85 266.86L659.5 272.51L653.85 278.16L648.2 272.51Z"/><path d="M660.13 266.86L665.78 272.51L660.13 278.16L654.48 272.51Z"/><path d="M666.42 266.86L672.07 272.51L666.42 278.16L660.77 272.51Z"/><path d="M672.7 266.86L678.35 272.51L672.7 278.16L667.05 272.51Z"/><path d="M678.99 266.86L684.64 272.51L678.99 278.16L673.34 272.51Z"/><path d="M685.28 266.86L690.93 272.51L685.28 278.16L679.63 272.51Z"/><path d="M691.56 266.86L697.21 272.51L691.56 278.16L685.91 272.51Z"/><path d="M697.85 266.86L703.5 272.51L697.85 278.16L692.2 272.51Z"/><path d="M704.13 266.86L709.78 272.51L704.13 278.16L698.48 272.51Z"/><path d="M710.42 266.86L716.07 272.51L710.42 278.16L704.77 272.51Z"/><path d="M716.71 266.86L722.36 272.51L716.71 278.16L711.06 272.51Z"/><path d="M722.99 266.86L728.64 272.51L722.99 278.16L717.34 272.51Z"/><path d="M729.28 266.86L734.93 272.51L729.28 278.16L723.63 272.51Z"/><path d="M735.56 266.86L741.21 272.51L735.56 278.16L729.91 272.51Z"/><path d="M741.85 266.86L747.5 272.51L741.85 278.16L736.2 272.51Z"/></g><g fill="#00ffff" stroke="none"><path d="M112.75 467h1v1h-1zM119.04 463.62h1v1h-1zM125.32 460.23h1v1h-1zM131.61 456.84h1v1h-1zM137.89 453.43h1v1h-1zM144.18 450.03h1v1h-1zM150.47 446.61h1v1h-1zM156.75 443.18h1v1h-1zM163.04 439.75h1v1h-1zM169.32 436.31h1v1h-1zM175.61 432.86h1v1h-1zM181.9 429.4h1v1h-1zM188.18 425.93h1v1h-1zM194.47 422.46h1v1h-1zM200.75 418.97h1v1h-1zM207.04 415.47h1v1h-1zM213.33 411.96h1v1h-1zM219.61 408.43h1v1h-1zM225.9 404.89h1v1h-1zM232.18 401.34h1v1h-1zM238.47 397.76h1v1h-1zM244.76 394.17h1v1h-1zM251.04 390.54h1v1h-1zM257.33 386.89h1v1h-1zM263.61 383.21h1v1h-1zM269.9 379.51h1v1h-1zM276.19 375.78h1v1h-1zM282.47 372.03h1v1h-1zM288.76 368.25h1v1h-1zM295.04 364.46h1v1h-1zM301.33 360.66h1v1h-1zM307.62 356.82h1v1h-1zM313.9 352.94h1v1h-1zM320.19 349.02h1v1h-1zM326.47 345.06h1v1h-1zM332.76 341.09h1v1h-1zM339.05 337.11h1v1h-1zM345.33 333.14h1v1h-1zM351.62 329.18h1v1h-1zM357.9 325.25h1v1h-1zM364.19 321.38h1v1h-1zM370.48 317.53h1v1h-1zM376.76 313.67h1v1h-1zM383.05 309.81h1v1h-1zM389.33 305.95h1v1h-1zM395.62 302.1h1v1h-1zM401.91 298.27h1v1h-1zM408.19 294.46h1v1h-1zM414.48 290.67h1v1h-1zM420.76 286.93h1v1h-1zM427.05 283.23h1v1h-1zM433.34 279.89h1v1h-1zM439.62 276.77h1v1h-1zM445.91 273.67h1v1h-1zM452.19 272.01h1v1h-1zM458.48 272.01h1v1h-1zM464.77 272.01h1v1h-1zM471.05 272.01h1v1h-1zM477.34 272.01h1v1h-1zM483.62 272.01h1v1h-1zM489.91 272.01h1v1h-1zM496.2 272.01h1v1h-1zM502.48 272.01h1v1h-1zM508.77 272.01h1v1h-1zM515.05 272.01h1v1h-1zM521.34 272.01h1v1h-1zM527.63 272.01h1v1h-1zM533.91 272.01h1v1h-1zM540.2 272.01h1v1h-1zM546.48 272.01h1v1h-1zM552.77 272.01h1v1h-1zM559.06 272.01h1v1h-1zM565.34 272.01h1v1h-1zM571.63 272.01h1v1h-1zM577.91 272.01h1v1h-1zM584.2 272.01h1v1h-1zM590.49 272.01h1v1h-1zM596.77 272.01h1v1h-1zM603.06 272.01h1v1h-1zM609.34 272.01h1v1h-1zM615.63 272.01h1v1h-1zM621.92 272.01h1v1h-1zM628.2 272.01h1v1h-1zM634.49 272.01h1v1h-1zM640.77 272.01h1v1h-1zM647.06 272.01h1v1h-1zM653.35 272.01h1v1h-1zM659.63 272.01h1v1h-1zM665.92 272.01h1v1h-1zM672.2 272.01h1v1h-1zM678.49 272.01h1v1h-1zM684.78 272.01h1v1h-1zM691.06 272.01h1v1h-1zM697.35 272.01h1v1h-1zM703.63 272.01h1v1h-1zM709.92 272.01h1v1h-1zM716.21 272.01h1v1h-1zM722.49 272.01h1v1h-1zM728.78 272.01h1v1h-1zM735.06 272.01h1v1h-1zM741.35 272.01h1v1h-1z"/></g>
<g stroke="#ff5000" stroke-width="2.7" fill="none" stroke-linecap="butt"><path d="M722.99 53.87H741.85"/><path d="M697.85 77.53H741.85"/><path d="M641.27 129.78H741.85"/><path d="M565.84 191.75H741.85"/><path d="M452.69 272.51H741.85"/></g>
<g stroke="#000" stroke-width="2.55" fill="none" stroke-linecap="round" stroke-linejoin="round"><path d="M113.25 467.5L117.06 467.06L120.87 466.63L124.68 466.19L128.49 465.75L132.3 465.3L136.1 464.86L139.91 464.41L143.72 463.96L147.53 463.5L151.34 463.04L155.15 462.58L158.96 462.11L162.77 461.64L166.58 461.16L170.39 460.68L174.2 460.2L178 459.71L181.81 459.22L185.62 458.72L189.43 458.21L193.24 457.69L197.05 457.16L200.86 456.63L204.67 456.08L208.48 455.52L212.29 454.96L216.09 454.38L219.9 453.79L223.71 453.19L227.52 452.58L231.33 451.96L235.14 451.32L238.95 450.67L242.76 450.01L246.57 449.32L250.38 448.61L254.19 447.88L257.99 447.12L261.8 446.33L265.61 445.53L269.42 444.69L273.23 443.84L277.04 442.96L280.85 442.05L284.66 441.12L288.47 440.17L292.28 439.19L296.09 438.19L299.89 437.16L303.7 436.11L307.51 435.03L311.32 433.91L315.13 432.75L318.94 431.55L322.75 430.32L326.56 429.04L330.37 427.73L334.18 426.37L337.99 424.97L341.79 423.53L345.6 422.05L349.41 420.52L353.22 418.95L357.03 417.34L360.84 415.68L364.65 413.98L368.46 412.21L372.27 410.37L376.08 408.45L379.89 406.46L383.69 404.4L387.5 402.26L391.31 400.06L395.12 397.79L398.93 395.47L402.74 393.08L406.55 390.64L410.36 388.15L414.17 385.61L417.98 383.03L421.78 380.41L425.59 377.75L429.4 375.06L433.21 372.32L437.02 369.52L440.83 366.66L444.64 363.74L448.45 360.77L452.26 357.73L456.07 354.64L459.88 351.49L463.68 348.28L467.49 345.02L471.3 341.69L475.11 338.31L478.92 334.87L482.73 331.37L486.54 327.81L490.35 324.2L494.16 320.51L497.97 316.73L501.78 312.85L505.58 308.89L509.39 304.85L513.2 300.74L517.01 296.57L520.82 292.34L524.63 288.05L528.44 283.73L532.25 279.37L536.06 274.99L539.87 270.58L543.68 266.17L547.48 261.76L551.29 257.36L555.1 252.97L558.91 248.58L562.72 244.17L566.53 239.75L570.34 235.31L574.15 230.86L577.96 226.38L581.77 221.89L585.57 217.36L589.38 212.82L593.19 208.24L597 203.63L600.81 198.99L604.62 194.31L608.43 189.59L612.24 184.83L616.05 180.02L619.86 175.16L623.67 170.24L627.47 165.29L631.28 160.31L635.09 155.32L638.9 150.33L642.71 145.37L646.52 140.45L650.33 135.57L654.14 130.71L657.95 125.88L661.76 121.06L665.57 116.24L669.37 111.43L673.18 106.61L676.99 101.77L680.8 96.91L684.61 91.99L688.42 87.09L692.23 82.31L696.04 77.73L699.85 73.22L703.66 69.03L707.47 65.34L711.27 61.77L715.08 58.38L718.89 55.27"/><path d="M113.25 467.5L116.91 466.72L120.57 465.95L124.23 465.16L127.9 464.38L131.56 463.59L135.22 462.79L138.88 461.99L142.54 461.19L146.2 460.38L149.86 459.57L153.53 458.75L157.19 457.92L160.85 457.09L164.51 456.25L168.17 455.4L171.83 454.55L175.49 453.69L179.15 452.83L182.82 451.95L186.48 451.07L190.14 450.18L193.8 449.27L197.46 448.36L201.12 447.43L204.78 446.5L208.45 445.55L212.11 444.59L215.77 443.62L219.43 442.63L223.09 441.63L226.75 440.62L230.41 439.6L234.08 438.56L237.74 437.51L241.4 436.45L245.06 435.36L248.72 434.26L252.38 433.13L256.04 431.99L259.7 430.82L263.37 429.64L267.03 428.43L270.69 427.2L274.35 425.95L278.01 424.68L281.67 423.38L285.33 422.06L289 420.72L292.66 419.35L296.32 417.97L299.98 416.56L303.64 415.12L307.3 413.65L310.96 412.15L314.63 410.62L318.29 409.05L321.95 407.45L325.61 405.82L329.27 404.15L332.93 402.44L336.59 400.7L340.25 398.93L343.92 397.12L347.58 395.28L351.24 393.41L354.9 391.5L358.56 389.55L362.22 387.58L365.88 385.57L369.55 383.51L373.21 381.4L376.87 379.24L380.53 377.03L384.19 374.76L387.85 372.45L391.51 370.1L395.18 367.7L398.84 365.26L402.5 362.78L406.16 360.26L409.82 357.7L413.48 355.11L417.14 352.49L420.81 349.84L424.47 347.17L428.13 344.47L431.79 341.74L435.45 338.98L439.11 336.18L442.77 333.34L446.43 330.47L450.1 327.56L453.76 324.61L457.42 321.62L461.08 318.59L464.74 315.53L468.4 312.42L472.06 309.27L475.73 306.09L479.39 302.86L483.05 299.59L486.71 296.27L490.37 292.92L494.03 289.5L497.69 286.02L501.36 282.47L505.02 278.85L508.68 275.18L512.34 271.46L516 267.7L519.66 263.89L523.32 260.06L526.98 256.19L530.65 252.3L534.31 248.4L537.97 244.49L541.63 240.58L545.29 236.67L548.95 232.78L552.61 228.91L556.28 225.06L559.94 221.2L563.6 217.33L567.26 213.46L570.92 209.58L574.58 205.69L578.24 201.79L581.91 197.88L585.57 193.97L589.23 190.05L592.89 186.11L596.55 182.17L600.21 178.22L603.87 174.26L607.53 170.28L611.2 166.3L614.86 162.3L618.52 158.27L622.18 154.16L625.84 149.99L629.5 145.75L633.16 141.48L636.83 137.17L640.49 132.85L644.15 128.54L647.81 124.24L651.47 119.98L655.13 115.77L658.79 111.62L662.46 107.56L666.12 103.61L669.78 99.78L673.44 96.08L677.1 92.55L680.76 89.15L684.42 85.85L688.09 83.15L691.75 80.75L695.41 78.54"/><path d="M113.25 467.5L116.56 466.29L119.86 465.09L123.17 463.87L126.47 462.66L129.78 461.44L133.08 460.22L136.39 458.99L139.7 457.76L143 456.52L146.31 455.28L149.61 454.04L152.92 452.79L156.22 451.53L159.53 450.27L162.83 449L166.14 447.73L169.45 446.46L172.75 445.18L176.06 443.89L179.36 442.6L182.67 441.3L185.97 439.99L189.28 438.68L192.59 437.36L195.89 436.03L199.2 434.7L202.5 433.36L205.81 432.01L209.11 430.65L212.42 429.28L215.72 427.91L219.03 426.52L222.34 425.13L225.64 423.73L228.95 422.32L232.25 420.89L235.56 419.46L238.86 418.02L242.17 416.56L245.48 415.09L248.78 413.6L252.09 412.1L255.39 410.59L258.7 409.06L262 407.51L265.31 405.95L268.62 404.38L271.92 402.79L275.23 401.18L278.53 399.56L281.84 397.92L285.14 396.27L288.45 394.6L291.75 392.92L295.06 391.23L298.37 389.52L301.67 387.79L304.98 386.05L308.28 384.29L311.59 382.51L314.89 380.7L318.2 378.88L321.51 377.03L324.81 375.16L328.12 373.28L331.42 371.37L334.73 369.44L338.03 367.5L341.34 365.53L344.64 363.55L347.95 361.55L351.26 359.53L354.56 357.5L357.87 355.45L361.17 353.39L364.48 351.31L367.78 349.21L371.09 347.1L374.4 344.97L377.7 342.82L381.01 340.64L384.31 338.45L387.62 336.24L390.92 334.01L394.23 331.76L397.54 329.49L400.84 327.2L404.15 324.89L407.45 322.55L410.76 320.2L414.06 317.83L417.37 315.43L420.67 313.02L423.98 310.58L427.29 308.12L430.59 305.64L433.9 303.12L437.2 300.58L440.51 298.01L443.81 295.41L447.12 292.79L450.43 290.14L453.73 287.47L457.04 284.78L460.34 282.07L463.65 279.33L466.95 276.58L470.26 273.82L473.56 271.04L476.87 268.24L480.18 265.44L483.48 262.62L486.79 259.8L490.09 256.97L493.4 254.14L496.7 251.28L500.01 248.4L503.32 245.51L506.62 242.6L509.93 239.67L513.23 236.73L516.54 233.78L519.84 230.81L523.15 227.83L526.46 224.85L529.76 221.85L533.07 218.85L536.37 215.85L539.68 212.84L542.98 209.82L546.29 206.81L549.59 203.8L552.9 200.79L556.21 197.78L559.51 194.79L562.82 191.8L566.12 188.81L569.43 185.83L572.73 182.83L576.04 179.83L579.35 176.82L582.65 173.78L585.96 170.73L589.26 167.65L592.57 164.56L595.87 161.46L599.18 158.39L602.48 155.29L605.79 152.11L609.1 148.93L612.4 145.9L615.71 143.13L619.01 140.59L622.32 138.13L625.62 135.82L628.93 133.86L632.24 132.3L635.54 130.95L638.85 130.09"/><path d="M113.25 467.5L116.08 466.18L118.9 464.85L121.73 463.52L124.56 462.19L127.38 460.86L130.21 459.52L133.04 458.18L135.86 456.84L138.69 455.5L141.52 454.15L144.35 452.8L147.17 451.45L150 450.09L152.83 448.73L155.65 447.37L158.48 446L161.31 444.64L164.13 443.26L166.96 441.89L169.79 440.51L172.61 439.13L175.44 437.74L178.27 436.36L181.09 434.96L183.92 433.56L186.75 432.16L189.58 430.76L192.4 429.35L195.23 427.93L198.06 426.51L200.88 425.09L203.71 423.66L206.54 422.22L209.36 420.78L212.19 419.34L215.02 417.89L217.84 416.44L220.67 414.98L223.5 413.52L226.32 412.05L229.15 410.57L231.98 409.09L234.8 407.61L237.63 406.12L240.46 404.63L243.29 403.13L246.11 401.62L248.94 400.11L251.77 398.59L254.59 397.06L257.42 395.53L260.25 394L263.07 392.45L265.9 390.9L268.73 389.34L271.55 387.78L274.38 386.21L277.21 384.63L280.03 383.05L282.86 381.45L285.69 379.85L288.52 378.25L291.34 376.63L294.17 375.01L297 373.38L299.82 371.74L302.65 370.1L305.48 368.45L308.3 366.78L311.13 365.11L313.96 363.43L316.78 361.74L319.61 360.04L322.44 358.33L325.26 356.61L328.09 354.88L330.92 353.15L333.74 351.4L336.57 349.64L339.4 347.87L342.23 346.1L345.05 344.31L347.88 342.52L350.71 340.71L353.53 338.9L356.36 337.07L359.19 335.24L362.01 333.4L364.84 331.54L367.67 329.68L370.49 327.79L373.32 325.9L376.15 323.98L378.97 322.05L381.8 320.11L384.63 318.15L387.46 316.18L390.28 314.2L393.11 312.21L395.94 310.21L398.76 308.2L401.59 306.18L404.42 304.15L407.24 302.12L410.07 300.08L412.9 298.04L415.72 295.99L418.55 293.95L421.38 291.9L424.2 289.85L427.03 287.81L429.86 285.76L432.68 283.7L435.51 281.62L438.34 279.54L441.17 277.44L443.99 275.34L446.82 273.22L449.65 271.11L452.47 268.98L455.3 266.86L458.13 264.73L460.95 262.61L463.78 260.49L466.61 258.37L469.43 256.25L472.26 254.15L475.09 252.05L477.91 249.97L480.74 247.9L483.57 245.85L486.4 243.81L489.22 241.8L492.05 239.8L494.88 237.79L497.7 235.78L500.53 233.76L503.36 231.74L506.18 229.72L509.01 227.69L511.84 225.67L514.66 223.65L517.49 221.64L520.32 219.63L523.14 217.64L525.97 215.65L528.8 213.68L531.62 211.73L534.45 209.79L537.28 207.88L540.11 205.99L542.93 204.12L545.76 202.28L548.59 200.47L551.41 198.7L554.24 196.97L557.07 195.41L559.89 193.99L562.72 192.65"/><path d="M113.25 467.5L115.35 466.37L117.46 465.24L119.56 464.1L121.67 462.97L123.77 461.83L125.88 460.7L127.98 459.56L130.09 458.43L132.19 457.29L134.3 456.15L136.4 455.01L138.51 453.87L140.61 452.73L142.72 451.59L144.82 450.45L146.93 449.3L149.03 448.16L151.14 447.01L153.24 445.87L155.35 444.72L157.45 443.57L159.56 442.43L161.66 441.28L163.77 440.13L165.87 438.97L167.98 437.82L170.08 436.67L172.19 435.51L174.29 434.36L176.4 433.2L178.5 432.04L180.61 430.89L182.71 429.73L184.82 428.57L186.92 427.41L189.03 426.24L191.13 425.08L193.24 423.91L195.34 422.75L197.45 421.58L199.55 420.41L201.66 419.24L203.76 418.07L205.87 416.9L207.97 415.73L210.08 414.55L212.18 413.38L214.29 412.2L216.39 411.02L218.5 409.84L220.6 408.66L222.71 407.47L224.81 406.29L226.92 405.1L229.02 403.91L231.13 402.72L233.23 401.53L235.34 400.33L237.44 399.13L239.55 397.93L241.65 396.73L243.76 395.53L245.86 394.32L247.97 393.11L250.07 391.89L252.18 390.67L254.28 389.45L256.39 388.23L258.49 387L260.6 385.77L262.7 384.54L264.81 383.3L266.91 382.06L269.02 380.82L271.12 379.58L273.23 378.33L275.33 377.08L277.44 375.83L279.54 374.57L281.65 373.32L283.75 372.06L285.86 370.8L287.96 369.53L290.07 368.27L292.17 367L294.28 365.73L296.38 364.46L298.49 363.18L300.59 361.91L302.7 360.63L304.8 359.35L306.91 358.06L309.01 356.77L311.12 355.47L313.22 354.17L315.33 352.86L317.43 351.55L319.54 350.24L321.64 348.92L323.75 347.6L325.85 346.27L327.96 344.94L330.06 343.61L332.17 342.28L334.27 340.95L336.38 339.62L338.48 338.28L340.59 336.95L342.69 335.62L344.8 334.29L346.9 332.96L349.01 331.63L351.11 330.31L353.22 328.99L355.32 327.67L357.43 326.36L359.53 325.05L361.64 323.75L363.74 322.46L365.85 321.17L367.95 319.88L370.06 318.59L372.16 317.3L374.27 316.01L376.37 314.71L378.48 313.42L380.58 312.13L382.69 310.84L384.79 309.54L386.9 308.25L389 306.96L391.11 305.67L393.21 304.38L395.32 303.09L397.42 301.8L399.53 300.52L401.63 299.24L403.74 297.96L405.84 296.68L407.95 295.41L410.05 294.13L412.16 292.87L414.26 291.6L416.37 290.34L418.47 289.09L420.58 287.83L422.68 286.59L424.79 285.35L426.89 284.11L429 282.9L431.1 281.77L433.21 280.7L435.31 279.66L437.42 278.62L439.52 277.57L441.63 276.52L443.73 275.48L445.84 274.44L447.94 273.42"/></g>
<rect x="113.25" y="31.5" width="628.6" height="436" stroke="#000" stroke-width="1.3" fill="none"/>
<g stroke="#ff0000" stroke-width="1.3" fill="none"><rect x="270.75" y="47.25" width="11.5" height="11.5"/></g><rect x="276" y="52.5" width="1" height="1" fill="#ff0000"/>
<g stroke="#00ff00" stroke-width="1.3" fill="none"><circle cx="276.5" cy="81.9" r="5.75"/></g><rect x="276" y="81.4" width="1" height="1" fill="#00ff00"/>
<g stroke="#0000ff" stroke-width="1.3" fill="none"><path d="M276.5 105L271 113.7L282 113.7Z"/></g><rect x="276" y="110.3" width="1" height="1" fill="#0000ff"/>
<g stroke="#ff00ff" stroke-width="1.3" fill="none"><path d="M276.5 145.5L271 136.8L282 136.8Z"/></g><rect x="276" y="139.2" width="1" height="1" fill="#ff00ff"/>
<g stroke="#00ffff" stroke-width="1.3" fill="none"><path d="M276.5 162.95L282.15 168.6L276.5 174.25L270.85 168.6Z"/></g><rect x="276" y="168.1" width="1" height="1" fill="#00ffff"/>
<path d="M255 197.5H298" stroke="#ff5000" stroke-width="2.5"/>
<path d="M255 226.4H298" stroke="#000" stroke-width="2.5"/>
<g opacity="0.999">
<text transform="translate(238.6 62.7) scale(1.0 1.075)" font-size="26.0" text-anchor="end">0.05</text>
<path d="M173.5 53.6H186.4M173.5 58.5H186.4" stroke="#000" stroke-width="1.9" fill="none"/>
<g fill="none" stroke="#000" stroke-linecap="round"><path d="M161.7 52.5C162 49.9 163.4 48.5 164.6 48.8C166.2 49.3 167.2 54 168.3 60" stroke-width="1.7"/><path d="M174.1 48.1L168.6 60.3" stroke-width="1.05"/><path d="M172.2 48.1H174.9" stroke-width="0.8"/></g><path d="M168.4 59.3C169.3 62.4 170.3 65.4 169.5 66.8C168.9 67.9 167.3 67.9 166.7 66.8C165.9 65.4 167.2 62.4 168.4 59.3Z" fill="#000"/>
<text transform="translate(237.9 91.6) scale(1.0 1.075)" font-size="26.0" text-anchor="end">0.1</text>
<text transform="translate(237.9 120.5) scale(1.0 1.075)" font-size="26.0" text-anchor="end">0.2</text>
<text transform="translate(237.9 149.4) scale(1.0 1.075)" font-size="26.0" text-anchor="end">0.3</text>
<text transform="translate(237.9 178.3) scale(1.0 1.075)" font-size="26.0" text-anchor="end">0.4</text>
<text transform="translate(238.6 207.2) scale(1.055 1.075)" font-size="26.0" text-anchor="end">Eq.(19)</text>
<text transform="translate(238.6 236.1) scale(1.055 1.075)" font-size="26.0" text-anchor="end">Eq.(23)</text>
<text transform="translate(96.6 477) scale(1.0 1.075)" font-size="26.0" text-anchor="end">0</text>
<text transform="translate(113.25 503) scale(1.0 1.075)" font-size="26.0" text-anchor="middle">0</text>
<text transform="translate(96.6 389.8) scale(1.0 1.075)" font-size="26.0" text-anchor="end">0.2</text>
<text transform="translate(238.97 503) scale(1.0 1.075)" font-size="26.0" text-anchor="middle">0.2</text>
<text transform="translate(96.6 302.6) scale(1.0 1.075)" font-size="26.0" text-anchor="end">0.4</text>
<text transform="translate(364.69 503) scale(1.0 1.075)" font-size="26.0" text-anchor="middle">0.4</text>
<text transform="translate(96.6 215.4) scale(1.0 1.075)" font-size="26.0" text-anchor="end">0.6</text>
<text transform="translate(490.41 503) scale(1.0 1.075)" font-size="26.0" text-anchor="middle">0.6</text>
<text transform="translate(96.6 128.2) scale(1.0 1.075)" font-size="26.0" text-anchor="end">0.8</text>
<text transform="translate(616.13 503) scale(1.0 1.075)" font-size="26.0" text-anchor="middle">0.8</text>
<text transform="translate(96.6 41) scale(1.0 1.075)" font-size="26.0" text-anchor="end">1</text>
<text transform="translate(741.85 503) scale(1.0 1.075)" font-size="26.0" text-anchor="middle">1</text>
<text transform="translate(26.1 265.9) scale(0.98 1.05)" font-size="45.5" text-anchor="middle">S</text>
<clipPath id="cp"><rect x="400" y="500" width="60" height="49.8"/></clipPath>
<g clip-path="url(#cp)"><text transform="translate(427.4 541.9) scale(1.0 1.0)" font-size="46.5" text-anchor="middle">p</text></g>
<text transform="translate(639.4 410.9) scale(1.0 1.0)" font-size="39.5" text-anchor="middle">(b)</text>
</g>
<path d="M83 38.9H88.95V41.3H83ZM91.05 38.9H97.5V41.3H91.05Z" fill="#fff"/>
<path d="M735 500.9H740.95V503.3H735ZM743.55 500.9H749V503.3H743.55Z" fill="#fff"/>
<path d="M224.3 88.9H229.95V91.3H224.3ZM232.55 88.9H237.8V91.3H232.55Z" fill="#fff"/>
<path d="M200.3 204.9H205.95V207.3H200.3ZM208.55 204.9H213.8V207.3H208.55Z" fill="#fff"/>
</svg></body></html>
